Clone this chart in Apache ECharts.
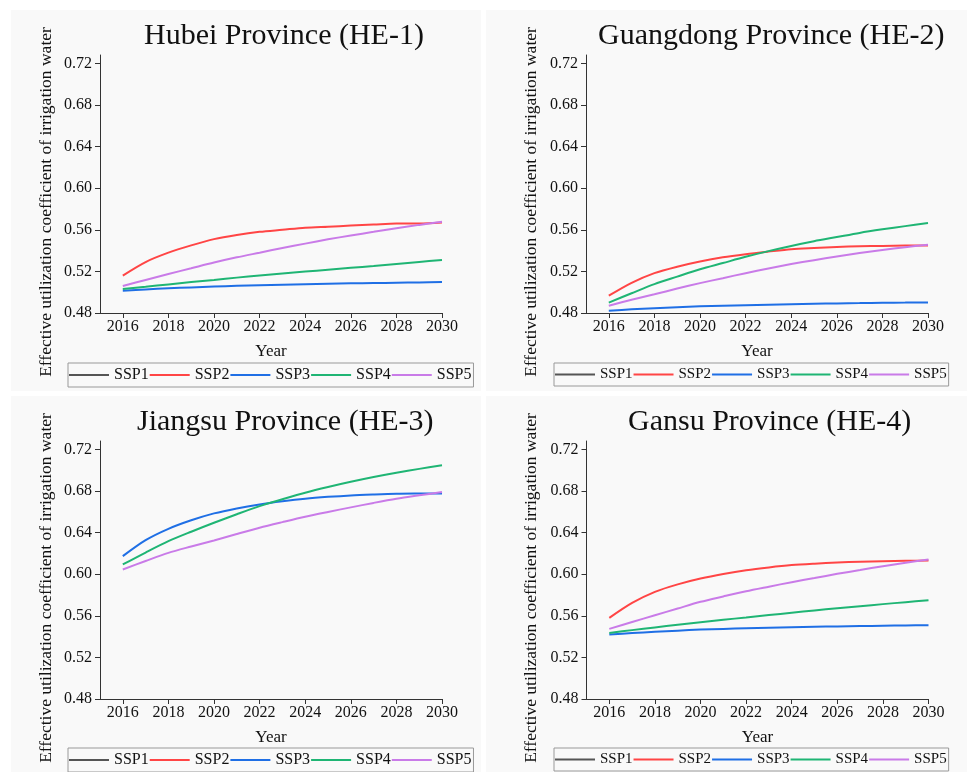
<!DOCTYPE html>
<html>
<head>
<meta charset="utf-8">
<script src="https://cdn.jsdelivr.net/npm/echarts@6/dist/echarts.min.js"></script>
<style>
html,body{margin:0;padding:0;background:#fff;}
#c{width:967px;height:772px;}
</style>
</head>
<body>
<div id="c"></div>
<script>
const years = [2016,2017,2018,2019,2020,2021,2022,2023,2024,2025,2026,2027,2028,2029,2030];
const xTicks = [2016,2018,2020,2022,2024,2026,2028,2030];
const yTicks = [0.48,0.52,0.56,0.60,0.64,0.68,0.72];
const scenarios = ['SSP1','SSP2','SSP3','SSP4','SSP5'];
const titles = ['Hubei Province (HE-1)','Guangdong Province (HE-2)','Jiangsu Province (HE-3)','Gansu Province (HE-4)'];
const yName = 'Effective utilization coefficient of irrigation water';
const xName = 'Year';

// Hubei (HE-1)
const hubeiSSP1 = [null,null,null,null,null,null,null,null,null,null,null,null,null,null,null];
const hubeiSSP2 = [0.516,0.529,0.538,0.545,0.551,0.555,0.558,0.560,0.562,0.563,0.564,0.565,0.566,0.566,0.567];
const hubeiSSP3 = [0.5015,0.5027,0.5037,0.5046,0.5054,0.5061,0.5067,0.5072,0.5077,0.5081,0.5085,0.5088,0.5091,0.5094,0.5097];
const hubeiSSP4 = [0.503,0.5052,0.5075,0.5097,0.5118,0.514,0.516,0.518,0.5198,0.5216,0.5234,0.5252,0.5272,0.5291,0.531];
const hubeiSSP5 = [0.506,0.5118,0.5175,0.523,0.5285,0.5335,0.538,0.5425,0.5467,0.5508,0.5545,0.558,0.5615,0.5647,0.5677];

// Guangdong (HE-2)
const guangdongSSP1 = [null,null,null,null,null,null,null,null,null,null,null,null,null,null,null];
const guangdongSSP2 = [0.4966,0.509,0.5183,0.5245,0.5295,0.5335,0.5365,0.539,0.5413,0.5425,0.5435,0.5441,0.5445,0.5448,0.545];
const guangdongSSP3 = [0.4822,0.4835,0.4846,0.4856,0.4864,0.487,0.4875,0.488,0.4885,0.4889,0.4892,0.4895,0.4898,0.49,0.4902];
const guangdongSSP4 = [0.490,0.499,0.5078,0.515,0.522,0.528,0.534,0.5395,0.5445,0.549,0.553,0.557,0.5604,0.5635,0.5665];
const guangdongSSP5 = [0.487,0.4927,0.498,0.5035,0.5087,0.5135,0.5183,0.5228,0.527,0.5308,0.5343,0.5376,0.5406,0.5433,0.5457];

// Jiangsu (HE-3)
const jiangsuSSP1 = [null,null,null,null,null,null,null,null,null,null,null,null,null,null,null];
const jiangsuSSP2 = [null,null,null,null,null,null,null,null,null,null,null,null,null,null,null];
const jiangsuSSP3 = [0.6173,0.6327,0.6436,0.6518,0.6584,0.6632,0.667,0.670,0.6725,0.6743,0.6757,0.6766,0.6773,0.6775,0.6776];
const jiangsuSSP4 = [0.6093,0.6208,0.6317,0.6408,0.6494,0.6576,0.6654,0.672,0.6783,0.6838,0.6888,0.6934,0.6975,0.7012,0.7046];
const jiangsuSSP5 = [0.6045,0.6127,0.6205,0.6266,0.6324,0.6386,0.6446,0.650,0.6552,0.6598,0.6642,0.6685,0.6725,0.6758,0.6789];

// Gansu (HE-4)
const gansuSSP1 = [null,null,null,null,null,null,null,null,null,null,null,null,null,null,null];
const gansuSSP2 = [0.558,0.5724,0.583,0.5902,0.5958,0.6002,0.6038,0.6065,0.6087,0.6101,0.6112,0.612,0.6125,0.6129,0.6131];
const gansuSSP3 = [0.5419,0.5434,0.5446,0.5457,0.5467,0.5474,0.548,0.5486,0.549,0.5494,0.5498,0.5501,0.5504,0.5507,0.5509];
const gansuSSP4 = [0.5435,0.5462,0.5488,0.5513,0.5537,0.5561,0.5584,0.5607,0.5629,0.5651,0.5672,0.5692,0.5712,0.5731,0.575];
const gansuSSP5 = [0.5474,0.554,0.5605,0.567,0.5734,0.5786,0.5836,0.588,0.5923,0.5963,0.6003,0.604,0.6077,0.611,0.6141];

const panelData = [
  [hubeiSSP1,hubeiSSP2,hubeiSSP3,hubeiSSP4,hubeiSSP5],
  [guangdongSSP1,guangdongSSP2,guangdongSSP3,guangdongSSP4,guangdongSSP5],
  [jiangsuSSP1,jiangsuSSP2,jiangsuSSP3,jiangsuSSP4,jiangsuSSP5],
  [gansuSSP1,gansuSSP2,gansuSSP3,gansuSSP4,gansuSSP5]
];

const colors = ['#555555','#ff4545','#1f6fe5','#1fb574','#c97be8'];
const FONT = 'Liberation Serif';
const TXT = '#111';

// layout
const panels = [
  {bx:11, by:10, bw:470, bh:381, gl:100, gt:55, titleL:144, titleT:21, nameX:46, nameY:202, legL:68, legT:363, legFs:16},
  {bx:486, by:10, bw:481, bh:381, gl:586, gt:55, titleL:598, titleT:21, nameX:531, nameY:202, legL:554, legT:363, legFs:15},
  {bx:11, by:396, bw:470, bh:376, gl:100, gt:441, titleL:137, titleT:407, nameX:46, nameY:588, legL:68, legT:748, legFs:16},
  {bx:486, by:396, bw:481, bh:376, gl:586.5, gt:441, titleL:628, titleT:407, nameX:531, nameY:588, legL:554, legT:748, legFs:15}
];

const grid = [], xAxis = [], yAxis = [], series = [], title = [], legend = [], graphic = [];

panels.forEach((p, i) => {
  graphic.push({type:'rect', silent:true, z:-10, shape:{x:p.bx, y:p.by, width:p.bw, height:p.bh}, style:{fill:'#f9f9f9'}});
  graphic.push({type:'text', silent:true, x:p.nameX, y:p.nameY, rotation:Math.PI/2,
    style:{text:yName, font:'17.5px "' + FONT + '"', fill:TXT, textAlign:'center', textVerticalAlign:'middle'}});
  grid.push({left:p.gl, top:p.gt, width:342, height:258, containLabel:false});
  title.push({text:titles[i], left:p.titleL, top:p.titleT, padding:0,
    textStyle:{fontFamily:FONT, fontSize:30, fontWeight:'normal', color:TXT}});
  xAxis.push({type:'value', gridIndex:i, min:2015, max:2030,
    name:xName, nameLocation:'middle', nameGap:30,
    nameTextStyle:{fontFamily:FONT, fontSize:17, color:TXT},
    axisLine:{show:true, lineStyle:{color:'#333', width:1}},
    axisTick:{show:true, length:5, inside:false, customValues:xTicks, lineStyle:{color:'#333'}},
    axisLabel:{customValues:xTicks, margin:6, fontFamily:FONT, fontSize:16, color:TXT, formatter:v=>String(v)},
    splitLine:{show:false}});
  yAxis.push({type:'value', gridIndex:i, min:0.48, max:0.728,
    axisLine:{show:true, lineStyle:{color:'#333', width:1}},
    axisTick:{show:true, length:5, inside:false, customValues:yTicks, lineStyle:{color:'#333'}},
    axisLabel:{customValues:yTicks, margin:8, fontFamily:FONT, fontSize:16, color:TXT, formatter:v=>v.toFixed(2)},
    splitLine:{show:false}});
  legend.push({left:p.legL, top:p.legT, orient:'horizontal', data:scenarios, icon:'rect',
    itemWidth:40, itemHeight:2, itemGap:1, selectedMode:false,
    borderColor:'#999', borderWidth:1, padding:[4,2,4,1],
    textStyle:{fontFamily:FONT, fontSize:p.legFs, color:TXT}});
  scenarios.forEach((s, k) => {
    series.push({name:s, type:'line', xAxisIndex:i, yAxisIndex:i,
      data: years.map((y, j) => [y, panelData[i][k][j]]),
      showSymbol:false, symbol:'none', smooth:0.3, connectNulls:false,
      itemStyle:{color:colors[k]}, lineStyle:{color:colors[k], width:2}, z:2+k});
  });
});

const chart = echarts.init(document.getElementById('c'), null, {renderer:'canvas'});
chart.setOption({animation:false, backgroundColor:'#ffffff', color:colors,
  title, legend, grid, xAxis, yAxis, series, graphic});
</script>
</body>
</html>
